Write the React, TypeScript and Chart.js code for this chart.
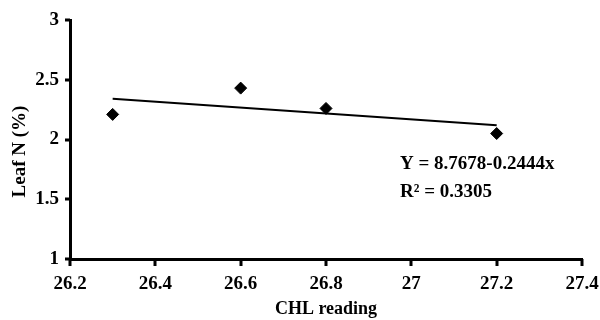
import React, { useEffect, useRef } from "react";
import { Chart, registerables } from "chart.js";

Chart.register(...registerables);

const chlReading = [26.3, 26.6, 26.8, 27.2];
const leafN = [2.21, 2.43, 2.26, 2.05];
const trendX = [26.3, 27.2];
const trendY = [2.34, 2.12];
const equationLines = ["Y = 8.7678-0.2444x", "R\u00B2 = 0.3305"];
const xTitle = "CHL reading";
const yTitle = "Leaf N (%)";

const FONT = "'Liberation Serif', 'Times New Roman', serif";

const textPlugin = {
  id: "customText",
  afterDraw(chart: any) {
    const ctx = chart.ctx;
    const area = chart.chartArea;
    ctx.save();
    const xs = chart.scales.x;
    const ys = chart.scales.y;
    ctx.fillStyle = "#000";
    xs.ticks.forEach((t: any) => {
      const px = Math.round(xs.getPixelForValue(t.value));
      ctx.fillRect(px - 1.5, area.bottom, 3, 7);
    });
    ys.ticks.forEach((t: any) => {
      const py = Math.round(ys.getPixelForValue(t.value));
      ctx.fillRect(area.left - 5, py - 1.5, 5, 3);
    });

    ctx.font = `bold 19px ${FONT}`;
    ctx.textAlign = "left";
    ctx.textBaseline = "middle";
    ctx.fillText(equationLines[0], area.left + 330, area.top + 144);
    ctx.fillText(equationLines[1], area.left + 330, area.top + 172);
    ctx.translate(20, (area.top + area.bottom) / 2 + 12);
    ctx.rotate(-Math.PI / 2);
    ctx.textAlign = "center";
    ctx.fillText(yTitle, 0, 0);
    ctx.restore();
  },
};

export default function App() {
  const ref = useRef<HTMLCanvasElement>(null);
  useEffect(() => {
    if (!ref.current) return;
    const chart = new Chart(ref.current, {
      type: "scatter",
      data: {
        datasets: [
          {
            type: "scatter",
            data: chlReading.map((x, i) => ({ x, y: leafN[i] })),
            pointStyle: "rectRot",
            pointRadius: 6,
            pointBackgroundColor: "#000",
            pointBorderColor: "#000",
            showLine: false,
          },
          {
            type: "line",
            data: trendX.map((x, i) => ({ x, y: trendY[i] })),
            borderColor: "#000",
            borderWidth: 2,
            pointRadius: 0,
            fill: false,
          } as any,
        ],
      },
      options: {
        animation: false,
        responsive: false,
        layout: { padding: { top: 20, right: 18, left: 0, bottom: 0 } },
        plugins: { legend: { display: false }, tooltip: { enabled: false } },
        scales: {
          x: {
            type: "linear",
            min: 26.2,
            max: 27.4,
            afterFit: (s: any) => {
              s.height = 61;
              s.paddingRight = 0;
              s.paddingLeft = 0;
            },
            ticks: {
              stepSize: 0.2,
              color: "#000",
              padding: 8,
              font: { family: FONT, size: 19, weight: "bold" },
              callback: (v: any) => String(Number(Number(v).toFixed(1))),
            },
            grid: {
              display: true,
              drawOnChartArea: false,
              drawTicks: true,
              tickLength: 6,
              color: "rgba(0,0,0,0)",
            },
            border: { display: true, color: "#000", width: 3 },
            title: {
              display: true,
              text: xTitle,
              color: "#000",
              font: { family: FONT, size: 18, weight: "bold" },
              padding: { top: 0, bottom: 0 },
            },
          },
          y: {
            type: "linear",
            min: 1,
            max: 3,
            afterFit: (s: any) => {
              s.width = 70;
            },
            ticks: {
              stepSize: 0.5,
              color: "#000",
              padding: 6,
              font: { family: FONT, size: 19, weight: "bold" },
              callback: (v: any) => String(Number(Number(v).toFixed(1))),
            },
            grid: {
              display: true,
              drawOnChartArea: false,
              drawTicks: true,
              tickLength: 5,
              color: "rgba(0,0,0,0)",
            },
            border: { display: true, color: "#000", width: 3 },
          },
        },
      },
      plugins: [textPlugin],
    });
    return () => chart.destroy();
  }, []);
  return (
    <div style={{ position: "fixed", left: 0, top: 0, width: 600, height: 320, background: "#fff" }}>
      <canvas ref={ref} width={600} height={320} />
    </div>
  );
}
